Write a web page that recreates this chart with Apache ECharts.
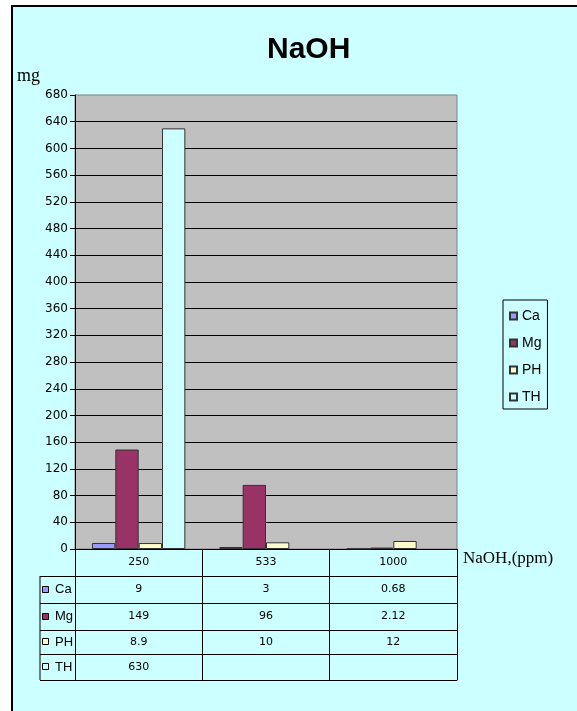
<!DOCTYPE html>
<html>
<head>
<meta charset="utf-8">
<script src="https://cdn.jsdelivr.net/npm/echarts@6/dist/echarts.min.js"></script>
<style>
  html, body { margin: 0; padding: 0; background: #ffffff; }
  #wrap { position: relative; width: 577px; height: 711px; overflow: hidden; background: #ffffff; }
  #frame { position: absolute; left: 11px; top: 5px; width: 700px; height: 800px;
           border: 2px solid #000; background: #CCFFFF; box-sizing: border-box; }
  #chart { position: absolute; left: 0; top: 0; width: 577px; height: 711px; }
</style>
</head>
<body>
<div id="wrap"><div id="frame"></div><div id="chart"></div></div>
<script>
// ---- data ----
const categories = ['250', '533', '1000'];
const seriesNames = ['Ca', 'Mg', 'PH', 'TH'];
const caValues = [9, 3, 0.68];
const mgValues = [149, 96, 2.12];
const phValues = [8.9, 10, 12];
const thValues = [630, null, null];
const yMin = 0, yMax = 680, yStep = 40;
const titleText = 'NaOH';
const yAxisName = 'mg';
const xAxisName = 'NaOH,(ppm)';

// ---- styling / layout ----
const seriesColors = ['#9999FF', '#993366', '#FFFFCC', '#CCFFFF'];
const allValues = [caValues, mgValues, phValues, thValues];
const gridLeft = 75, gridTop = 95, gridWidth = 382, gridHeight = 454;
const gridBottomY = gridTop + gridHeight;
const rowOffsets = [0, 27, 54, 81, 105, 131]; // table row lines below the plot
const numFont = 'DejaVu Sans';

const chart = echarts.init(document.getElementById('chart'), null, { renderer: 'canvas' });

const xAxes = [];
// header row axis (categories) with long ticks forming the table columns
xAxes.push({
  type: 'category', gridIndex: 0, position: 'bottom', offset: 0,
  data: categories,
  axisLine: { show: true, lineStyle: { color: '#000', width: 1 } },
  axisTick: { show: true, length: rowOffsets[rowOffsets.length - 1], lineStyle: { color: '#000', width: 1 } },
  axisLabel: { interval: 0, margin: 7, fontSize: 11, lineHeight: 13, fontFamily: numFont, color: '#000' },
  splitLine: { show: false },
  name: xAxisName, nameLocation: 'end', nameGap: 6,
  nameTextStyle: { fontFamily: 'Liberation Serif', fontSize: 17, color: '#000', verticalAlign: 'top', align: 'left', padding: [1, 0, 0, 0] }
});
for (let k = 0; k < allValues.length; k++) {
  const vals = allValues[k];
  xAxes.push({
    type: 'category', gridIndex: 0, position: 'bottom', offset: rowOffsets[k + 1],
    data: categories,
    axisLine: { show: true, lineStyle: { color: '#000', width: 1 } },
    axisTick: { show: false },
    axisLabel: {
      interval: 0, margin: rowOffsets[k + 2] - rowOffsets[k + 1] > 25 ? 7 : 6,
      fontSize: 11, lineHeight: 13, fontFamily: numFont, color: '#000',
      formatter: function (v, i) { const d = vals[i]; return (d === null || d === undefined) ? '' : String(d); }
    },
    splitLine: { show: false }
  });
}
// bottom line of the table
xAxes.push({
  type: 'category', gridIndex: 0, position: 'bottom', offset: rowOffsets[rowOffsets.length - 1],
  data: categories,
  axisLine: { show: true, lineStyle: { color: '#000', width: 1 } },
  axisTick: { show: false }, axisLabel: { show: false }, splitLine: { show: false }
});

// key column of the data table (left of the plot)
const keyGraphics = [];
const keyLeft = 40;
const firstRowY = gridBottomY + rowOffsets[1];
const lastRowY = gridBottomY + rowOffsets[rowOffsets.length - 1];
keyGraphics.push({ type: 'line', shape: { x1: keyLeft, y1: firstRowY, x2: keyLeft, y2: lastRowY }, style: { stroke: '#000', lineWidth: 1 } });
for (let r = 1; r < rowOffsets.length; r++) {
  const y = gridBottomY + rowOffsets[r] + 0.5;
  keyGraphics.push({ type: 'line', shape: { x1: keyLeft, y1: y, x2: gridLeft, y2: y }, style: { stroke: '#000', lineWidth: 1 } });
}
for (let k = 0; k < seriesNames.length; k++) {
  const yc = gridBottomY + (rowOffsets[k + 1] + rowOffsets[k + 2]) / 2;
  keyGraphics.push({ type: 'rect', shape: { x: keyLeft + 2.5, y: Math.round(yc) - 3.5, width: 6, height: 6 }, style: { fill: seriesColors[k], stroke: '#000', lineWidth: 1 } });
  keyGraphics.push({ type: 'text', x: keyLeft + 15, y: yc, style: { text: seriesNames[k], fill: '#000', font: '13px "Liberation Sans", Arial, sans-serif', verticalAlign: 'middle', align: 'left' } });
}

const option = {
  backgroundColor: 'transparent',
  animation: false,
  title: {
    text: titleText, left: 267, top: 35, padding: 0,
    textStyle: { fontFamily: 'Liberation Sans', fontSize: 30, fontWeight: 'bold', color: '#000' }
  },
  legend: {
    data: seriesNames, orient: 'vertical', left: 503, top: 300,
    icon: 'rect', itemWidth: 7, itemHeight: 7, itemGap: 11,
    padding: [8, 6, 4, 6], borderColor: '#000', borderWidth: 1, backgroundColor: 'transparent',
    textStyle: { fontFamily: 'Liberation Sans', fontSize: 14, lineHeight: 16, color: '#000' }
  },
  grid: {
    left: gridLeft, top: gridTop, width: gridWidth, height: gridHeight,
    show: true, backgroundColor: '#C0C0C0', borderColor: '#808080', borderWidth: 1
  },
  xAxis: xAxes,
  yAxis: {
    type: 'value', min: yMin, max: yMax, interval: yStep,
    name: yAxisName, nameLocation: 'end', nameGap: 10,
    nameTextStyle: { fontFamily: 'Liberation Serif', fontSize: 18, color: '#000', align: 'right', padding: [0, 35, 0, 0] },
    axisLine: { show: true, lineStyle: { color: '#000', width: 1 } },
    axisTick: { show: true, length: 5, lineStyle: { color: '#000' } },
    axisLabel: { margin: 7, fontSize: 12, fontFamily: numFont, color: '#000' },
    splitLine: { show: true, showMinLine: false, showMaxLine: false, lineStyle: { color: '#000', width: 1 } }
  },
  graphic: keyGraphics,
  series: seriesNames.map(function (name, k) {
    return {
      name: name, type: 'bar', xAxisIndex: 0,
      data: allValues[k],
      barGap: '0%', barCategoryGap: '26.7%',
      itemStyle: { color: seriesColors[k], borderColor: '#333', borderWidth: 1 }
    };
  })
};
chart.setOption(option);
</script>
</body>
</html>
